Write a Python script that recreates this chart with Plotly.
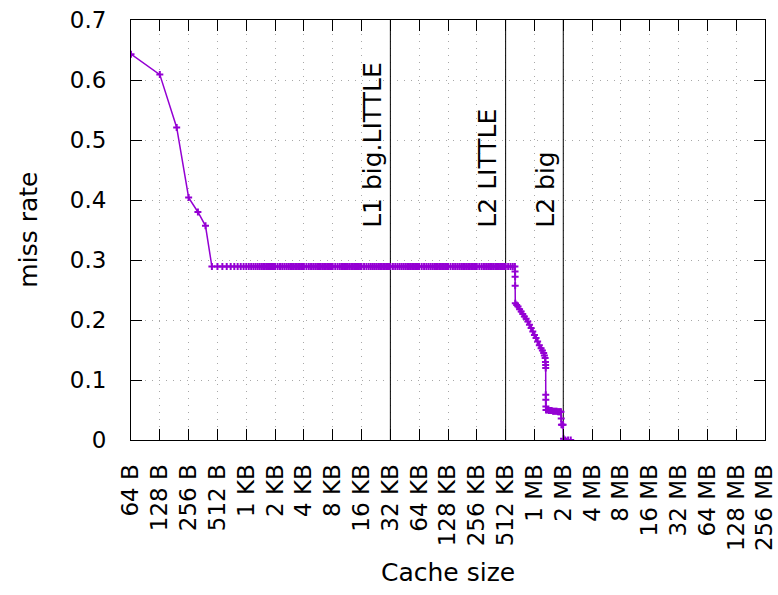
import math
import plotly.graph_objects as go

# ---------------- data ----------------
# cache sizes in KB and the measured miss rate
size_kb_small = [0.0625, 0.125, 0.1875, 0.25, 0.3125, 0.375, 0.4375, 0.5,
                 0.5625, 0.625, 0.6875, 0.75, 0.8125, 0.875, 0.9375, 1.0,
                 1.0625, 1.125, 1.1875, 1.25, 1.3125, 1.375, 1.4375, 1.5,
                 1.5625, 1.625, 1.6875, 1.75, 1.8125, 1.875, 1.9375, 2.0]
rate_small = [0.643, 0.609, 0.521, 0.404, 0.380, 0.357, 0.289, 0.289,
              0.289, 0.289, 0.289, 0.289, 0.289, 0.289, 0.289, 0.289,
              0.289, 0.289, 0.289, 0.289, 0.289, 0.289, 0.289, 0.289,
              0.289, 0.289, 0.289, 0.289, 0.289, 0.289, 0.289, 0.289]

size_kb_plateau = [
    2.125, 2.25, 2.375, 2.5, 2.625, 2.75, 2.875, 3, 3.125, 3.25, 3.375, 3.5, 3.625, 3.75, 3.875, 4,
    4.25, 4.5, 4.75, 5, 5.25, 5.5, 5.75, 6, 6.25, 6.5, 6.75, 7, 7.25, 7.5, 7.75, 8,
    8.5, 9, 9.5, 10, 10.5, 11, 11.5, 12, 12.5, 13, 13.5, 14, 14.5, 15, 15.5, 16,
    17, 18, 19, 20, 21, 22, 23, 24, 25, 26, 27, 28, 29, 30, 31, 32,
    34, 36, 38, 40, 42, 44, 46, 48, 50, 52, 54, 56, 58, 60, 62, 64,
    68, 72, 76, 80, 84, 88, 92, 96, 100, 104, 108, 112, 116, 120, 124, 128,
    136, 144, 152, 160, 168, 176, 184, 192, 200, 208, 216, 224, 232, 240, 248, 256,
    272, 288, 304, 320, 336, 352, 368, 384, 400, 416, 432, 448, 464, 480, 496, 512,
    544, 576, 608, 640]
rate_plateau = [
    0.289, 0.289, 0.289, 0.289, 0.289, 0.289, 0.289, 0.289, 0.289, 0.289, 0.289, 0.289, 0.289, 0.289, 0.289, 0.289,
    0.289, 0.289, 0.289, 0.289, 0.289, 0.289, 0.289, 0.289, 0.289, 0.289, 0.289, 0.289, 0.289, 0.289, 0.289, 0.289,
    0.289, 0.289, 0.289, 0.289, 0.289, 0.289, 0.289, 0.289, 0.289, 0.289, 0.289, 0.289, 0.289, 0.289, 0.289, 0.289,
    0.289, 0.289, 0.289, 0.289, 0.289, 0.289, 0.289, 0.289, 0.289, 0.289, 0.289, 0.289, 0.289, 0.289, 0.289, 0.289,
    0.289, 0.289, 0.289, 0.289, 0.289, 0.289, 0.289, 0.289, 0.289, 0.289, 0.289, 0.289, 0.289, 0.289, 0.289, 0.289,
    0.289, 0.289, 0.289, 0.289, 0.289, 0.289, 0.289, 0.289, 0.289, 0.289, 0.289, 0.289, 0.289, 0.289, 0.289, 0.289,
    0.289, 0.289, 0.289, 0.289, 0.289, 0.289, 0.289, 0.289, 0.289, 0.289, 0.289, 0.289, 0.289, 0.289, 0.289, 0.289,
    0.289, 0.289, 0.289, 0.289, 0.289, 0.289, 0.289, 0.289, 0.289, 0.289, 0.289, 0.289, 0.289, 0.289, 0.289, 0.289,
    0.289, 0.289, 0.289, 0.289]

size_kb_drop = [642, 643, 644, 646, 668, 690, 716, 744, 773, 803, 838, 873, 908, 945,
                984, 1024, 1064, 1105, 1152, 1201, 1240, 1278, 1300, 1324, 1334,
                1340, 1342, 1344, 1346, 1348, 1352, 1400, 1450, 1500, 1550, 1600,
                1650, 1700, 1750, 1800, 1850, 1900, 1937, 1950, 1960, 2000, 2040,
                2060, 2150, 2300, 2450]
rate_drop = [0.281, 0.272, 0.257, 0.228, 0.225, 0.2225, 0.218, 0.214, 0.210, 0.206,
             0.202, 0.1975, 0.192, 0.1865, 0.181, 0.175, 0.170, 0.164, 0.158, 0.153,
             0.149, 0.145, 0.141, 0.1366, 0.130, 0.125, 0.120, 0.0755, 0.067, 0.056,
             0.050, 0.050, 0.049, 0.049, 0.049, 0.048, 0.048, 0.048, 0.048, 0.047,
             0.047, 0.047, 0.047, 0.036, 0.0255, 0.0255, 0.0255, 0.002, 0.0, 0.0, 0.0]

# cache boundaries (KB) and their labels
boundary_kb = [32, 512, 2048]
boundary_labels = ["L1 big.LITTLE", "L2 LITTLE", "L2 big"]

tick_kb = [0.0625, 0.125, 0.25, 0.5, 1, 2, 4, 8, 16, 32, 64, 128, 256, 512,
           1024, 2048, 4096, 8192, 16384, 32768, 65536, 131072, 262144]
tick_text = ["64 B", "128 B", "256 B", "512 B", "1 KB", "2 KB", "4 KB", "8 KB",
             "16 KB", "32 KB", "64 KB", "128 KB", "256 KB", "512 KB", "1 MB",
             "2 MB", "4 MB", "8 MB", "16 MB", "32 MB", "64 MB", "128 MB", "256 MB"]

# ---------------- figure ----------------
PURPLE = "#9400d3"
FONT = "DejaVu Sans"
FS = 25
FS_TICK = 23

sizes = size_kb_small + size_kb_plateau + size_kb_drop
rates = rate_small + rate_plateau + rate_drop

fig = go.Figure()

for b in boundary_kb:
    fig.add_trace(go.Scatter(x=[b, b], y=[0, 0.7], mode="lines",
                             line=dict(color="black", width=1),
                             showlegend=False, hoverinfo="skip"))

fig.add_trace(go.Scatter(
    x=sizes, y=rates, mode="lines+markers",
    line=dict(color=PURPLE, width=1.5),
    marker=dict(symbol="cross-thin", size=5, color=PURPLE,
                line=dict(color=PURPLE, width=2)),
    showlegend=False))

for b, lab in zip(boundary_kb, boundary_labels):
    fig.add_annotation(x=math.log10(b), y=0.35, xref="x", yref="y",
                       text=lab, textangle=-90, showarrow=False,
                       xanchor="right", yanchor="bottom", xshift=-2,
                       font=dict(family=FONT, size=FS, color="black"))

# axis titles
fig.add_annotation(x=-0.163, y=0.5, xref="paper", yref="paper", text="miss rate",
                   textangle=-90, showarrow=False, xanchor="center", yanchor="middle",
                   font=dict(family=FONT, size=FS, color="black"))
fig.add_annotation(x=0.5, y=-0.315, xref="paper", yref="paper", text="Cache size",
                   showarrow=False, xanchor="center", yanchor="middle",
                   font=dict(family=FONT, size=FS, color="black"))

grid_dash = "1px,6px"
eps = 1e-6
fig.update_xaxes(type="log", range=[math.log10(0.0625) - eps, math.log10(262144) + eps],
                 tickvals=tick_kb, ticktext=tick_text, tickangle=-90,
                 ticks="inside", ticklen=11, tickcolor="black", tickwidth=1,
                 showline=True, linecolor="black", linewidth=1, mirror="ticks",
                 showgrid=True, gridcolor="#a8a8a8", gridwidth=1, griddash=grid_dash,
                 zeroline=False, ticklabelstandoff=14, ticklabeloverflow="allow",
                 automargin=False,
                 tickfont=dict(family=FONT, size=FS_TICK, color="black"))
fig.update_yaxes(range=[0, 0.7], dtick=0.1, tick0=0,
                 ticks="inside", ticklen=11, tickcolor="black", tickwidth=1,
                 showline=True, linecolor="black", linewidth=1, mirror="ticks",
                 showgrid=True, gridcolor="#a8a8a8", gridwidth=1, griddash=grid_dash,
                 zeroline=False, ticklabelstandoff=19, ticklabeloverflow="allow",
                 automargin=False,
                 tickfont=dict(family=FONT, size=FS_TICK, color="black"))

fig.update_layout(width=778, height=595,
                  margin=dict(l=131, r=13, t=20, b=155, autoexpand=False),
                  paper_bgcolor="white", plot_bgcolor="white",
                  font=dict(family=FONT, size=FS, color="black"))

fig.write_html("out.html")
